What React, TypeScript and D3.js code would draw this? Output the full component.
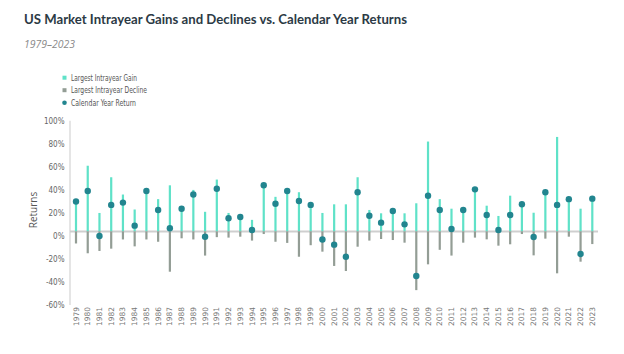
import React from "react";
import * as d3 from "d3";

const years = [
  "1979","1980","1981","1982","1983","1984","1985","1986","1987","1988",
  "1989","1990","1991","1992","1993","1994","1995","1996","1997","1998",
  "1999","2000","2001","2002","2003","2004","2005","2006","2007","2008",
  "2009","2010","2011","2012","2013","2014","2015","2016","2017","2018",
  "2019","2020","2021","2022","2023",
];
const gains = [
  28, 57, 16, 47, 32, 19, 36, 28, 40, 21,
  36, 17, 45, 16, 13.5, 10, 41, 30, 36, 34,
  25, 16, 23.5, 23.5, 47, 18.6, 15.7, 19, 15.7, 24.4,
  78, 28, 19.7, 19.5, 37.5, 22.3, 13.4, 31, 24.5, 16.2,
  35, 82, 29.5, 19.7, 29,
];
const declines = [
  -10.5, -19, -17, -15, -7, -13, -7, -9, -35, -6,
  -7, -21, -5, -5.4, -4.6, -8, -2.3, -9, -10, -22,
  -12, -17.6, -30, -34.4, -13.3, -8, -6.6, -7.5, -9.8, -51,
  -28.6, -16, -21, -9.8, -5.4, -6.9, -12.4, -11.2, -2.3, -20.8,
  -6.3, -36.4, -4.6, -26.3, -11,
];
const returns = [
  26, 35, -4, 23, 25, 5, 35, 18.6, 2.7, 19.7,
  32, -4.6, 37, 11.4, 12.5, 1.2, 40, 24, 35, 26.4,
  23, -7, -11.5, -22, 34, 13.6, 7.6, 17.7, 6.1, -38.7,
  31, 18.6, 2.1, 18.6, 36.5, 14.2, 1.2, 14.2, 23.5, -4.9,
  34, 23, 28, -19.6, 28.4,
];
const yTicks = [100, 80, 60, 40, 20, 0, -20, -40, -60];

const GAIN = "#5fe2c8";
const DECL = "#939d95";
const DOT = "#22858f";
const condensed = "'DejaVu Sans Condensed', 'Liberation Sans Narrow', 'Roboto', sans-serif";

export default function App() {
  const W = 624, H = 354;
  const x = d3.scalePoint<string>().domain(years).range([76, 592.3]);
  const y = d3.scaleLinear().domain([-60, 100]).range([300.5, 116.2]);
  const bw = 2.2;
  const labOff = 4.5;

  const legend = [
    { label: "Largest Intrayear Gain", kind: "sq", color: GAIN, w: 66 },
    { label: "Largest Intrayear Decline", kind: "sq", color: DECL, w: 76 },
    { label: "Calendar Year Return", kind: "dot", color: DOT, w: 65 },
  ];

  return (
    <svg width={W} height={H} style={{ position: "absolute", left: 0, top: 0, background: "#fff" }}>
      <text x={24} y={24} fontFamily="Lato, 'Open Sans', sans-serif" fontWeight={700} fontSize={14}
        fill="#2c3a45" textLength={383} lengthAdjust="spacingAndGlyphs">
        US Market Intrayear Gains and Declines vs. Calendar Year Returns
      </text>
      <text x={24} y={48} fontFamily="'Open Sans', sans-serif" fontStyle="italic" fontSize={10.5}
        fill="#8a8a8a" textLength={51} lengthAdjust="spacingAndGlyphs">
        1979–2023
      </text>

      {legend.map((d, i) => {
        const cy = 77.7 + i * 12.5;
        return (
          <g key={d.label}>
            {d.kind === "sq" ? (
              <rect x={62.5} y={cy - 2} width={4} height={4} fill={d.color} />
            ) : (
              <circle cx={64.5} cy={cy} r={2.3} fill={d.color} />
            )}
            <text x={71} y={cy + 3} fontFamily={condensed} fontSize={9} fill="#555"
              textLength={d.w} lengthAdjust="spacingAndGlyphs">
              {d.label}
            </text>
          </g>
        );
      })}

      {/* y axis */}
      <line x1={70} x2={70} y1={y(100) + labOff} y2={y(-60) + labOff} stroke="#dcdcdc" strokeWidth={1.5} />
      {yTicks.map((t) => (
        <text key={t} x={64.5} y={y(t) + labOff} dy="0.35em" textAnchor="end"
          fontFamily={condensed} fontSize={8} fill="#666">
          {t}%
        </text>
      ))}
      <text transform={`translate(37,210) rotate(-90)`} textAnchor="middle"
        fontFamily="'Open Sans', sans-serif" fontSize={10} fill="#555">
        Returns
      </text>

      {/* zero line */}
      <line x1={70} x2={598} y1={y(0)} y2={y(0)} stroke="#cfcfcf" strokeWidth={2} />

      {years.map((yr, i) => {
        const cx = x(yr)!;
        return (
          <g key={yr}>
            <rect x={cx - bw / 2} y={y(gains[i])} width={bw} height={y(0) - y(gains[i])} fill={GAIN} />
            <rect x={cx - bw / 2} y={y(0)} width={bw} height={y(declines[i]) - y(0)} fill={DECL} />
            <circle cx={cx} cy={y(returns[i])} r={3.2} fill={DOT} />
            <text transform={`translate(${cx + 2.5},307) rotate(-90)`} textAnchor="end"
              fontFamily={condensed} fontSize={7.5} fill="#777"
              textLength={19} lengthAdjust="spacingAndGlyphs">
              {yr}
            </text>
          </g>
        );
      })}
    </svg>
  );
}
